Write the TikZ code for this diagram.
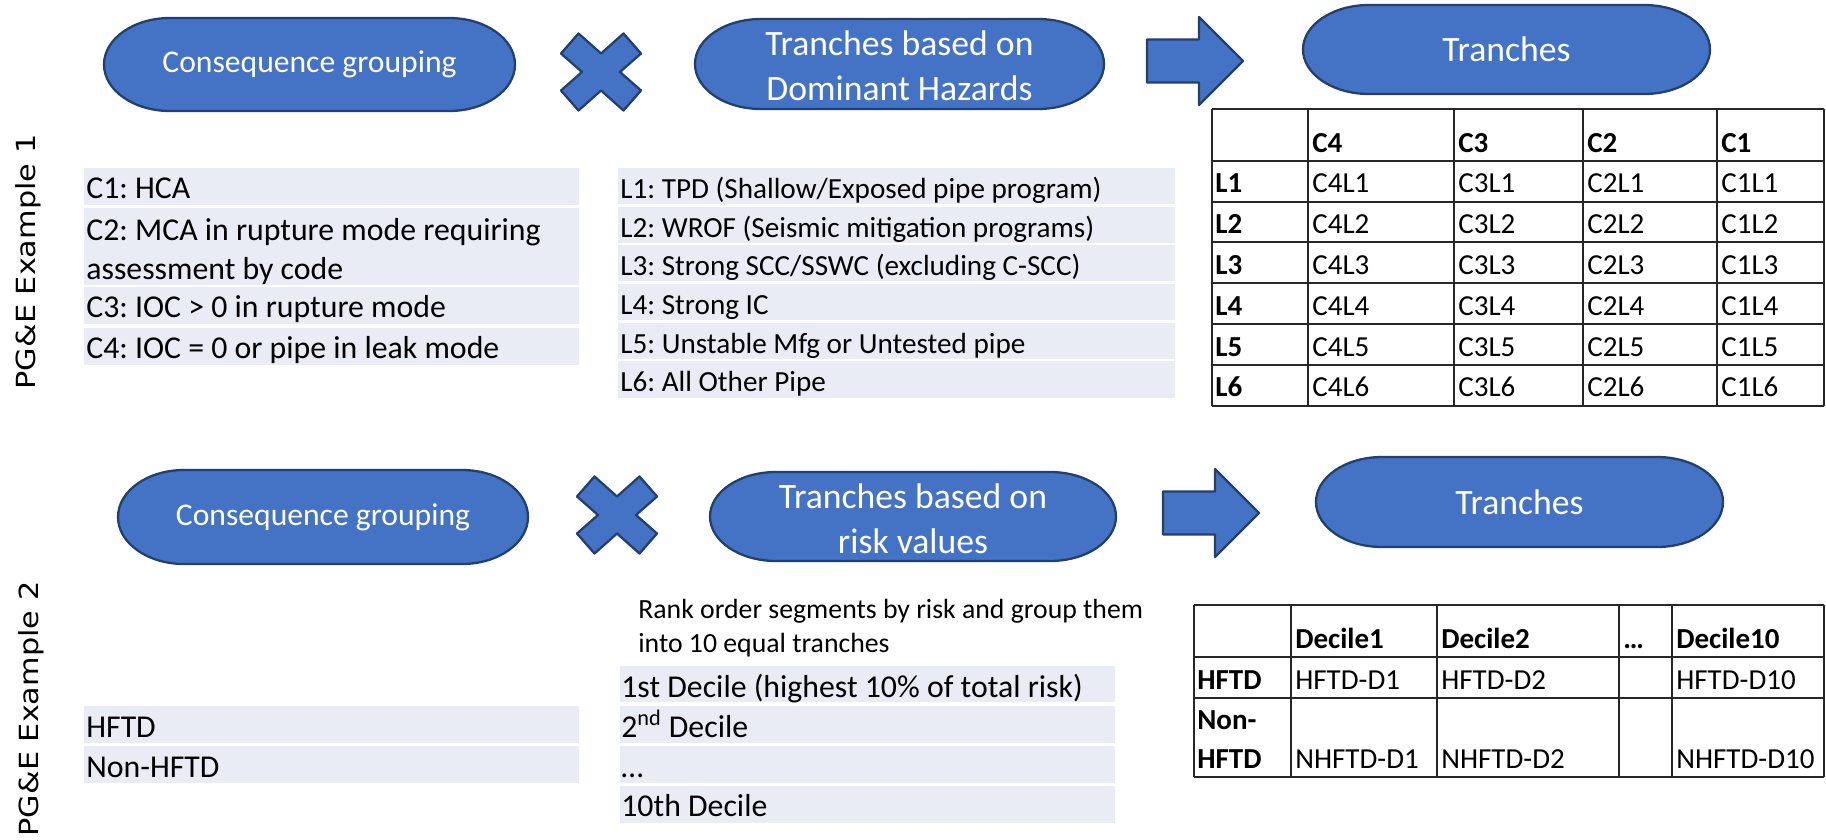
\documentclass[tikz,border=0pt]{standalone}
\usepackage{fontspec}
\setmainfont{Carlito}
\newfontfamily\sidefont{DejaVu Sans}
\usepackage{tikz}
\frenchspacing

\definecolor{pillblue}{HTML}{4472C4}
\definecolor{pilledge}{HTML}{22406F}
\definecolor{rowgrey}{HTML}{E9EBF5}

\tikzset{
  pillshape/.style={fill=pillblue,draw=pilledge,line width=1.3pt,line join=round},
  pilltext/.style={text=white,align=center,inner sep=0pt,font=\fontsize{20.3}{25.5}\selectfont},
  sidelabel/.style={rotate=90,inner sep=0pt,font=\sidefont\fontsize{15}{18}\selectfont},
  bigtext/.style={anchor=base west,inner sep=0pt,font=\fontsize{18.1}{22}\selectfont},
  smalltext/.style={anchor=base west,inner sep=0pt,font=\fontsize{16.6}{20}\selectfont},
  tabtext/.style={anchor=base west,inner sep=0pt,font=\fontsize{16.5}{20}\selectfont},
  tabhead/.style={tabtext,font=\fontsize{16.5}{20}\selectfont\bfseries},
  tabline/.style={line width=1.1pt,draw=black!85}
}

% terminator shape: centre x, centre y, width, height
\newcommand{\terminator}[4]{%
  \filldraw[pillshape] (#1-#3/2+66,#2-#4/2) -- (#1+#3/2-66,#2-#4/2)
    arc[start angle=-90,end angle=90,x radius=66,y radius=#4/2]
    -- (#1-#3/2+66,#2+#4/2)
    arc[start angle=90,end angle=270,x radius=66,y radius=#4/2] -- cycle;}
% block arrow: tip x, tip y
\newcommand{\blockarrow}[2]{%
  \filldraw[pillshape] (#1-96,#2-21.5) -- (#1-44,#2-21.5) -- (#1-44,#2-44) -- (#1,#2)
    -- (#1-44,#2+44) -- (#1-44,#2+21.5) -- (#1-96,#2+21.5) -- cycle;}
% multiply sign: centre x, centre y
\newcommand{\timesmark}[2]{%
  \filldraw[pillshape] (#1-22.5,#2-38.5) -- (#1,#2-18.5) -- (#1+22.5,#2-38.5) -- (#1+40,#2-18.5)
    -- (#1+19,#2) -- (#1+40,#2+18.5) -- (#1+22.5,#2+38.5) -- (#1,#2+18.5) -- (#1-22.5,#2+38.5)
    -- (#1-40,#2+18.5) -- (#1-19,#2) -- (#1-40,#2-18.5) -- cycle;}

\begin{document}
\begin{tikzpicture}[x=0.02cm,y=-0.02cm]
  \useasboundingbox (0,0) rectangle (1826,839);

  % Side labels
  \node[sidelabel] (ex1) at (28,262) {\scalebox{1.15}[1]{PG\&E Example 1}};
  \node[sidelabel] (ex2) at (31,709) {\scalebox{1.15}[1]{PG\&E Example 2}};

  % ---------- Example 1 ----------
  \terminator{309.5}{64.5}{411}{93}
  \node[pilltext,font=\fontsize{18}{22}\selectfont] (cons1) at (309.5,64.5) {Consequence grouping};
  \timesmark{601}{72}
  \terminator{899.5}{64}{409}{90}
  \node[pilltext] (haz1) at (899.5,66) {Tranches based on\\Dominant Hazards};
  \blockarrow{1243}{61}
  \terminator{1506.5}{49.5}{407}{89}
  \node[pilltext] (tr1) at (1506.5,49.5) {Tranches};

  % Consequence list
  \fill[rowgrey] (84,168) rectangle (579,205);
  \fill[rowgrey] (84,208) rectangle (579,285);
  \fill[rowgrey] (84,287) rectangle (579,324);
  \fill[rowgrey] (84,328) rectangle (579,365);
  \node[bigtext] (c1) at (86,198) {C1: HCA};
  \node[bigtext] (c2) at (86,240) {C2: MCA in rupture mode requiring};
  \node[bigtext] (c2b) at (86,279) {assessment by code};
  \node[bigtext] (c3) at (86,317) {C3: IOC > 0 in rupture mode};
  \node[bigtext] (c4) at (86,358) {C4: IOC = 0 or pipe in leak mode};

  % Hazard list
  \foreach \t/\b in {168/204,207/243,245/281,284/320,323/359,361/398}
    \fill[rowgrey] (618,\t) rectangle (1175,\b);
  \node[smalltext] (l1) at (620,198) {L1: TPD (Shallow/Exposed pipe program)};
  \node[smalltext] (l2) at (620,237) {L2: WROF (Seismic mitigation programs)};
  \node[smalltext] (l3) at (620,275) {L3: Strong SCC/SSWC (excluding C-SCC)};
  \node[smalltext] (l4) at (620,314) {L4: Strong IC};
  \node[smalltext] (l5) at (620,353) {L5: Unstable Mfg or Untested pipe};
  \node[smalltext] (l6) at (620,391) {L6: All Other Pipe};

  % Tranche table
  \foreach \y in {109,161,202,242,283,324,365,406}
    \draw[tabline] (1212,\y) -- (1824,\y);
  \foreach \x in {1212,1308,1454,1583,1717,1824}
    \draw[tabline] (\x,109) -- (\x,406);
  \foreach \c/\x in {4/1308,3/1454,2/1583,1/1717} {
    \node[tabhead] (hc\c) at ({\x+4},152) {C\c};
    \foreach \r in {1,...,6}
      \node[tabtext] (c\c l\r) at ({\x+4},{152+40.83*\r}) {C\c L\r};
  }
  \foreach \r in {1,...,6}
    \node[tabhead] (hl\r) at (1215,{152+40.83*\r}) {L\r};

  % ---------- Example 2 ----------
  \terminator{323}{517}{410}{94}
  \node[pilltext,font=\fontsize{18}{22}\selectfont] (cons2) at (323,517) {Consequence grouping};
  \timesmark{617}{515}
  \terminator{913}{516.5}{406}{89}
  \node[pilltext] (risk2) at (913,519) {Tranches based on\\risk values};
  \blockarrow{1259}{513}
  \terminator{1519.5}{502}{407}{90}
  \node[pilltext] (tr2) at (1519.5,502) {Tranches};

  % Consequence list
  \fill[rowgrey] (84,706) rectangle (579,743);
  \fill[rowgrey] (84,746) rectangle (579,783);
  \node[bigtext] (hftd) at (86,737) {HFTD};
  \node[bigtext] (nhftd) at (86,777) {Non-HFTD};

  % Decile list
  \node[anchor=base west,inner sep=0pt,font=\fontsize{15.8}{19}\selectfont] (rank) at (638,618) {Rank order segments by risk and group them};
  \node[anchor=base west,inner sep=0pt,font=\fontsize{15.8}{19}\selectfont] (rankb) at (638,652) {into 10 equal tranches};
  \foreach \t/\b in {666/702,706/743,746/783,786/823}
    \fill[rowgrey] (620,\t) rectangle (1115,\b);
  \node[bigtext] (d1) at (621,697) {1st Decile (highest 10\% of total risk)};
  \node[bigtext] (d2) at (621,737) {2\textsuperscript{nd} Decile};
  \node[bigtext] (dd) at (621,777) {…};
  \node[bigtext] (d10) at (621,816) {10th Decile};

  % Decile table
  \foreach \y in {605,657,698,777}
    \draw[tabline] (1194,\y) -- (1824,\y);
  \foreach \x in {1194,1291,1437,1619,1672,1824}
    \draw[tabline] (\x,605) -- (\x,777);
  \node[tabhead] (hd1) at (1295,648) {Decile1};
  \node[tabhead] (hd2) at (1441,648) {Decile2};
  \node[tabhead] (hdd) at (1623,648) {…};
  \node[tabhead] (hd10) at (1676,648) {Decile10};
  \node[tabhead] (rh) at (1197,689) {HFTD};
  \node[tabhead] (rn) at (1197,729) {Non-};
  \node[tabhead] (rnb) at (1197,768) {HFTD};
  \node[tabtext] (h1) at (1295,689) {HFTD-D1};
  \node[tabtext] (h2) at (1441,689) {HFTD-D2};
  \node[tabtext] (h10) at (1676,689) {HFTD-D10};
  \node[tabtext] (n1) at (1295,768) {NHFTD-D1};
  \node[tabtext] (n2) at (1441,768) {NHFTD-D2};
  \node[tabtext] (n10) at (1676,768) {NHFTD-D10};
\end{tikzpicture}
\end{document}
